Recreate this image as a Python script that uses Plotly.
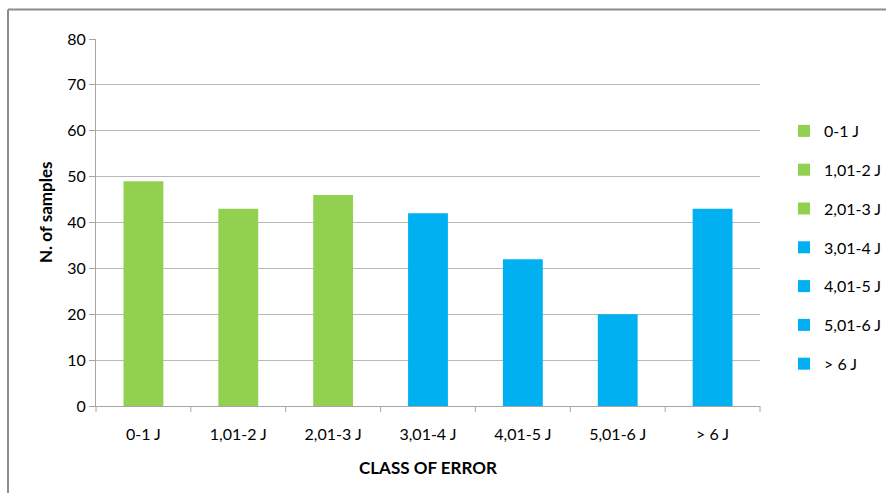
import plotly.graph_objects as go

# Number of samples per class of error
categories = ["0-1 J", "1,01-2 J", "2,01-3 J", "3,01-4 J", "4,01-5 J", "5,01-6 J", "> 6 J"]
samples = [49, 43, 46, 42, 32, 20, 43]
colors = ["#92D050", "#92D050", "#92D050", "#00B0F0", "#00B0F0", "#00B0F0", "#00B0F0"]
y_ticks = [0, 10, 20, 30, 40, 50, 60, 70, 80]

W, H = 886, 493
L, R, T, B = 96, 126, 39, 87
FONT = "Lato, Calibri, 'Open Sans', sans-serif"

fig = go.Figure()
for i, (cat, val, col) in enumerate(zip(categories, samples, colors)):
    fig.add_trace(go.Bar(
        x=[cat], y=[val], name=cat,
        marker=dict(color=col, line=dict(width=0)),
        width=0.42, legendgroup=f"g{i}",
    ))

pw = W - L - R
ph = H - T - B
# outer chart frame (left and top edges visible)
fx0 = (8 - L) / pw
fy1 = 1 + (T - 9.5) / ph
fig.add_shape(type="line", xref="paper", yref="paper",
              x0=fx0, x1=fx0, y0=-(B + 10) / ph, y1=fy1,
              line=dict(color="#8c8c8c", width=2))
fig.add_shape(type="line", xref="paper", yref="paper",
              x0=fx0, x1=(W - L + 10) / pw, y0=fy1, y1=fy1,
              line=dict(color="#8c8c8c", width=2))

# y-axis title placed as a rotated annotation
fig.add_annotation(
    text="<b>N. of samples</b>", textangle=-90,
    xref="paper", yref="paper",
    x=(45 - L) / pw, y=1 - (212 - T) / ph,
    xanchor="center", yanchor="middle", showarrow=False,
    font=dict(family=FONT, size=17, color="#000000"),
)

fig.update_layout(
    width=W, height=H,
    margin=dict(l=L, r=R, t=T, b=B, autoexpand=False),
    paper_bgcolor="white", plot_bgcolor="white",
    barmode="overlay",
    font=dict(family=FONT, size=16, color="#000000"),
    showlegend=True,
    legend=dict(
        x=(784 - L) / pw, xanchor="left", xref="paper",
        y=1 - (114 - T) / ph, yanchor="top", yref="paper",
        font=dict(family=FONT, size=16),
        tracegroupgap=15,
        itemwidth=30,
        bgcolor="rgba(0,0,0,0)",
    ),
    xaxis=dict(
        categoryorder="array", categoryarray=categories,
        showline=True, linecolor="#a6a6a6", linewidth=1,
        ticks="outside", ticklen=14, tickcolor="rgba(0,0,0,0)",
        showgrid=False,
        tickfont=dict(family=FONT, size=16),
        title=dict(text="<b>CLASS OF ERROR</b>", font=dict(family=FONT, size=17), standoff=19),
    ),
    yaxis=dict(
        range=[0, 80], tickvals=y_ticks,
        showline=True, linecolor="#a6a6a6", linewidth=1,
        ticks="outside", ticklen=6, tickcolor="#a6a6a6",
        showgrid=True, gridcolor="#b8b8b8", gridwidth=1,
        zeroline=False,
        tickfont=dict(family=FONT, size=16),
    ),
)

# category separator ticks below the x axis
for k in range(len(categories) + 1):
    xp = k / len(categories)
    fig.add_shape(type="line", xref="paper", yref="paper",
                  x0=xp, x1=xp, y0=0, y1=-6 / ph,
                  line=dict(color="#a6a6a6", width=1))

fig.write_html("out.html")
